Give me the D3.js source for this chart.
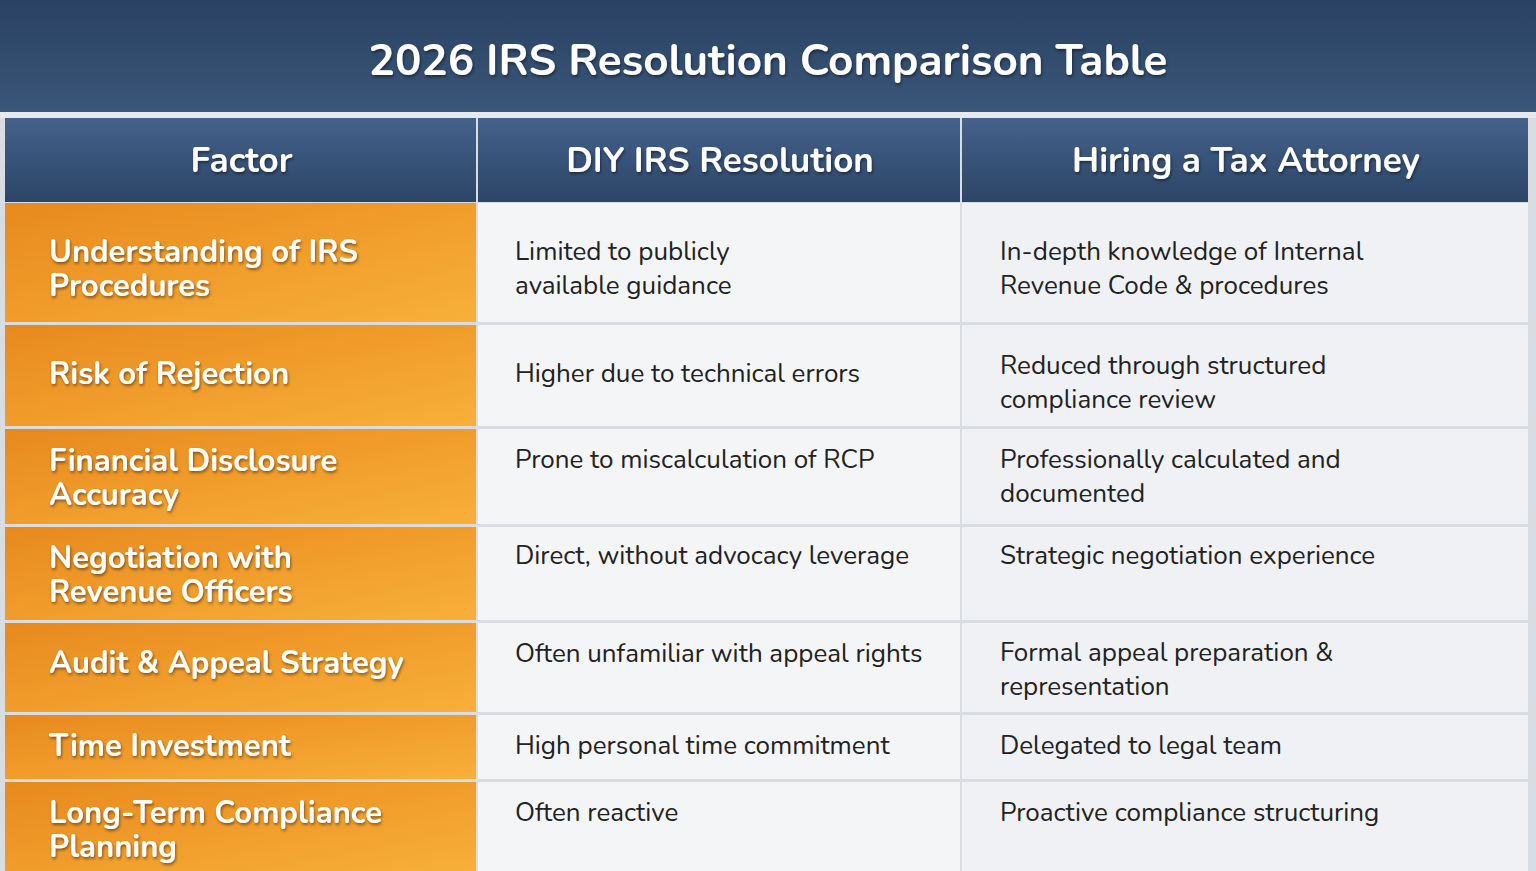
<!DOCTYPE html>
<html><head><meta charset="utf-8">
<script src="https://cdn.jsdelivr.net/npm/d3@7"></script>
<style>body{margin:0;background:#d9dde2;overflow:hidden}</style>
</head><body>
<script>
const title = "2026 IRS Resolution Comparison Table";
const columns = ["Factor", "DIY IRS Resolution", "Hiring a Tax Attorney"];
const factors = [
  ["Understanding of IRS", "Procedures"],
  ["Risk of Rejection"],
  ["Financial Disclosure", "Accuracy"],
  ["Negotiation with", "Revenue Officers"],
  ["Audit & Appeal Strategy"],
  ["Time Investment"],
  ["Long-Term Compliance", "Planning"]
];
const diy = [
  ["Limited to publicly", "available guidance"],
  ["Higher due to technical errors"],
  ["Prone to miscalculation of RCP"],
  ["Direct, without advocacy leverage"],
  ["Often unfamiliar  with appeal rights"],
  ["High personal time commitment"],
  ["Often reactive"]
];
const attorney = [
  ["In-depth knowledge of Internal", "Revenue Code & procedures"],
  ["Reduced through structured", "compliance review"],
  ["Professionally calculated and", "documented"],
  ["Strategic negotiation experience"],
  ["Formal appeal preparation &", "representation"],
  ["Delegated to legal team"],
  ["Proactive compliance structuring"]
];

// layout
const W = 1536, H = 871;
const rowH = [122, 104, 98, 96, 92, 67, 95];
const factorOff = [48, 48, 31, 30, 39, 30, 30];
const diyOff = [48, 48, 30, 28, 30, 30, 30];
const attOff = [48, 40, 30, 28, 29, 30, 30];
const colEdges = [5, 478, 962, 1530];
const textX = [49, 515, 1000];

const svg = d3.select("body").append("svg").attr("width", W).attr("height", H)
  .style("font-family", "Nunito, 'Open Sans', Lato, sans-serif");
const defs = svg.append("defs");
const tg = defs.append("linearGradient").attr("id", "tg").attr("x1", 0).attr("y1", 0).attr("x2", 0).attr("y2", 1);
tg.append("stop").attr("offset", 0).attr("stop-color", "#2a4263");
tg.append("stop").attr("offset", 1).attr("stop-color", "#3a5678");
const hg = defs.append("linearGradient").attr("id", "hg").attr("x1", 0).attr("y1", 0).attr("x2", 0).attr("y2", 1);
hg.append("stop").attr("offset", 0).attr("stop-color", "#44618a");
hg.append("stop").attr("offset", 1).attr("stop-color", "#2c4567");
const og = defs.append("linearGradient").attr("id", "og").attr("x1", 0).attr("y1", 0).attr("x2", 1).attr("y2", 1);
og.append("stop").attr("offset", 0).attr("stop-color", "#e8891d");
og.append("stop").attr("offset", 1).attr("stop-color", "#f8b03a");
const sh = defs.append("filter").attr("id", "sh").attr("x", "-5%").attr("y", "-20%").attr("width", "110%").attr("height", "150%");
sh.append("feDropShadow").attr("dx", 1).attr("dy", 2).attr("stdDeviation", 1.5).attr("flood-color", "#000").attr("flood-opacity", 0.45);

svg.append("rect").attr("width", W).attr("height", 112).attr("fill", "url(#tg)");
svg.append("rect").attr("y", 112).attr("width", W).attr("height", 6).attr("fill", "#e6e9ed");
svg.append("text").attr("x", 768).attr("y", 60).attr("dy", "0.35em").attr("text-anchor", "middle")
  .attr("fill", "#fff").attr("font-size", 44).attr("font-weight", 700).attr("filter", "url(#sh)").text(title);

// header
const yTop = 118, headH = 84;
const x = i => colEdges[i];
columns.forEach((c, i) => {
  svg.append("rect").attr("x", x(i)).attr("y", yTop).attr("width", x(i + 1) - x(i) - 2).attr("height", headH).attr("fill", "url(#hg)");
  svg.append("text").attr("x", (x(i) + x(i + 1)) / 2).attr("y", yTop + headH / 2).attr("dy", "0.35em")
    .attr("text-anchor", "middle").attr("fill", "#fff").attr("font-size", 35).attr("font-weight", 700)
    .attr("filter", "url(#sh)").text(c);
});

let y0 = yTop + headH;
const tops = rowH.map(h => { const t = y0; y0 += h; return t; });
const cols = [factors, diy, attorney];
const offs = [factorOff, diyOff, attOff];
rowH.forEach((h, r) => {
  const t = tops[r] + 1;
  cols.forEach((col, i) => {
    svg.append("rect").attr("x", x(i)).attr("y", t).attr("width", x(i + 1) - x(i) - 2).attr("height", h - 3)
      .attr("fill", i === 0 ? "url(#og)" : (i === 1 ? "#f4f5f7" : "#eff1f4"));
    const txt = svg.append("text").attr("x", textX[i]).attr("y", t + offs[i][r]);
    if (i === 0) txt.attr("fill", "#fff").attr("font-size", 31).attr("font-weight", 700).attr("filter", "url(#sh)");
    else txt.attr("fill", "#222").attr("font-size", 26);
    col[r].forEach((line, k) => {
      txt.append("tspan").attr("x", textX[i]).attr("dy", k === 0 ? "0.35em" : (i === 0 ? "1.1em" : "1.3em")).text(line);
    });
  });
});
</script>
</body></html>
